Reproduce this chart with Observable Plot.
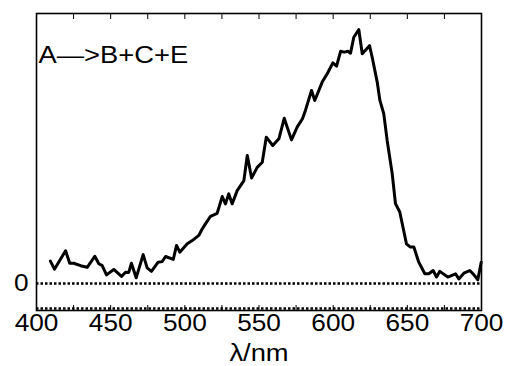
<!DOCTYPE html>
<html><head><meta charset="utf-8">
<script src="https://cdn.jsdelivr.net/npm/d3@7"></script>
<script src="https://cdn.jsdelivr.net/npm/@observablehq/plot@0.6"></script>
<style>body{margin:0;background:#fff} svg{display:block}</style>
</head><body><div id="chart"></div>
<script>
const wavelength = [409.4,412.1,419.6,422.4,425.1,429.7,434.2,439.3,442.0,444.3,447.2,452.1,457.3,460.0,462.2,464.0,467.2,471.9,474.6,477.5,482.0,484.7,487.0,492.2,494.4,496.6,501.6,505.0,509.4,511.7,513.9,517.3,521.8,525.2,527.4,529.6,531.9,535.3,539.8,542.1,545.0,548.8,552.2,554.9,559.3,563.4,567.0,571.9,575.8,579.3,581.3,585.4,587.6,592.6,596.0,599.8,602.3,605.0,607.6,609.9,611.7,613.9,617.3,619.6,624.5,626.3,629.7,631.5,634.1,636.4,639.8,642.0,644.9,649.4,652.1,654.4,657.7,661.8,664.5,667.4,669.7,671.9,677.3,682.5,684.7,688.1,692.1,694.8,697.5,699.8];
const signal = [0.083,0.053,0.121,0.075,0.075,0.066,0.060,0.101,0.073,0.066,0.032,0.052,0.026,0.042,0.041,0.075,0.021,0.107,0.058,0.045,0.079,0.081,0.100,0.089,0.141,0.116,0.147,0.159,0.178,0.202,0.221,0.249,0.260,0.322,0.295,0.332,0.295,0.344,0.381,0.474,0.391,0.430,0.449,0.542,0.511,0.536,0.612,0.532,0.580,0.610,0.641,0.715,0.678,0.746,0.777,0.817,0.805,0.860,0.857,0.860,0.853,0.912,0.940,0.851,0.881,0.838,0.746,0.678,0.629,0.530,0.407,0.296,0.265,0.147,0.135,0.135,0.079,0.036,0.036,0.048,0.024,0.045,0.024,0.036,0.017,0.038,0.048,0.033,0.014,0.079];
const xTicks = [400,425,450,475,500,525,550,575,600,625,650,675,700];
const xTickLabels = [400,450,500,550,600,650,700];
const yTicks = [0];
const zeroLine = [0];
const lowerTrace = [-0.093];
const title = "A\u2014>B+C+E";
const xLabel = "\u03bb/nm";

const data = wavelength.map((w, i) => ({w, v: signal[i]}));

const chart = Plot.plot({
  width: 506, height: 366,
  marginTop: 13, marginBottom: 56, marginLeft: 36, marginRight: 25,
  style: {fontFamily: "'Liberation Sans', Arial, sans-serif", fontSize: "23px", color: "black", background: "white"},
  x: {domain: [400, 700]},
  y: {domain: [-0.1, 1.0]},
  marks: [
    Plot.ruleY(zeroLine, {strokeDasharray: "2.5,2", strokeWidth: 2.5}),
    Plot.ruleY(lowerTrace, {strokeDasharray: "2.5,2", strokeWidth: 2.5}),
    Plot.line(data, {x: "w", y: "v", strokeWidth: 3}),
    Plot.frame({strokeWidth: 1.6}),
    Plot.axisX({anchor: "bottom", ticks: xTicks, tickSize: -5, tickPadding: 9, tickFormat: d => xTickLabels.includes(d) ? String(d) : "", fontSize: 23, label: null}),
    Plot.axisX({anchor: "top", ticks: xTicks, tickSize: -5, tickFormat: () => "", label: null}),
    Plot.axisY({ticks: yTicks, tickSize: 0, tickPadding: 8, tickFormat: d => String(d), label: null, fontSize: 23}),
    Plot.text([title], {text: d => d, frameAnchor: "top-left", dx: 2, dy: 32, lineAnchor: "top", textAnchor: "start", fontSize: 24}),
    Plot.text([xLabel], {text: d => d, frameAnchor: "bottom", dy: 43, lineAnchor: "middle", fontSize: 24})
  ]
});
// widen glyphs horizontally to match the reference's stretched lettering
d3.select(chart).selectAll("text").each(function() {
  const t = this.getAttribute("transform");
  if (t) this.setAttribute("transform", t + " scale(1.14,1)");
});
document.getElementById("chart").appendChild(chart);
</script>
</body></html>
